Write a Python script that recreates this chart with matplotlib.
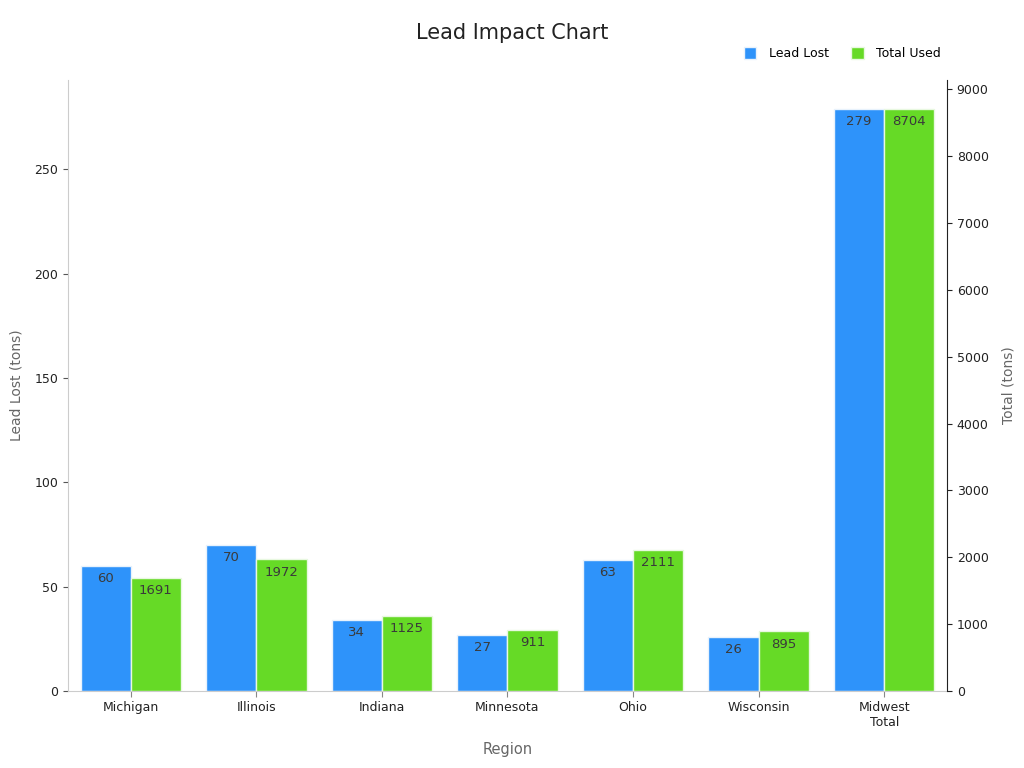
import matplotlib.pyplot as plt
import numpy as np

# data
regions = ['Michigan', 'Illinois', 'Indiana', 'Minnesota', 'Ohio', 'Wisconsin', 'Midwest\nTotal']
lead_lost = [60, 70, 34, 27, 63, 26, 279]
total_used = [1691, 1972, 1125, 911, 2111, 895, 8704]

blue = '#2E93FA'
green = '#66DA26'
grey = '#666666'

fig = plt.figure(figsize=(10.24, 7.68), dpi=100)
ax = fig.add_axes([0.0664, 0.1003, 0.8584, 0.7957])
ax2 = ax.twinx()

x = np.arange(len(regions))
w = 0.4
b1 = ax.bar(x - w / 2, lead_lost, w, color=blue, edgecolor='#e8f2fc', linewidth=1)
b2 = ax2.bar(x + w / 2, total_used, w, color=green, edgecolor='#e8f8e0', linewidth=1)

ax.set_xlim(-0.5, 6.5)
ax.set_ylim(0, max(lead_lost) * 1.05)
ax2.set_ylim(0, max(total_used) * 1.05)
ax.set_yticks(range(0, 251, 50))
ax2.set_yticks(range(0, 9001, 1000))

ax.set_xticks(x)
ax.set_xticklabels(regions, fontsize=9, color='#222222')
ax.tick_params(axis='y', labelsize=9, colors='#222222')
ax2.tick_params(axis='y', labelsize=9, colors='#222222')
ax.tick_params(axis='x', color='#888888', length=4)
ax.tick_params(axis='y', color='#555555')

ax.set_ylabel('Lead Lost (tons)', fontsize=10, color=grey, labelpad=8)
ax2.set_ylabel('Total (tons)', fontsize=10, color=grey, labelpad=9)
ax.set_xlabel('Region', fontsize=10.5, color=grey, labelpad=9)

ax.spines['top'].set_visible(False)
ax2.spines['top'].set_visible(False)
ax.spines['left'].set_color('#cccccc')
ax.spines['bottom'].set_color('#cccccc')
ax2.spines['left'].set_visible(False)
ax2.spines['bottom'].set_visible(False)
ax2.spines['right'].set_color('#222222')
ax.spines['right'].set_visible(False)

ax.bar_label(b1, labels=[str(v) for v in lead_lost], padding=-14, fontsize=9.5, color='#3a3a3a')
ax2.bar_label(b2, labels=[str(v) for v in total_used], padding=-14, fontsize=9.5, color='#3a3a3a')

fig.suptitle('Lead Impact Chart', x=0.5, y=0.97, fontsize=15, color='#222222')
fig.legend([b1, b2], ['Lead Lost', 'Total Used'], loc='center right',
           bbox_to_anchor=(0.93, 0.93), ncol=2, frameon=False, fontsize=9,
           handlelength=1.0, handleheight=1.0, handletextpad=1.0, columnspacing=1.8)

plt.savefig('out.png', dpi=100)
